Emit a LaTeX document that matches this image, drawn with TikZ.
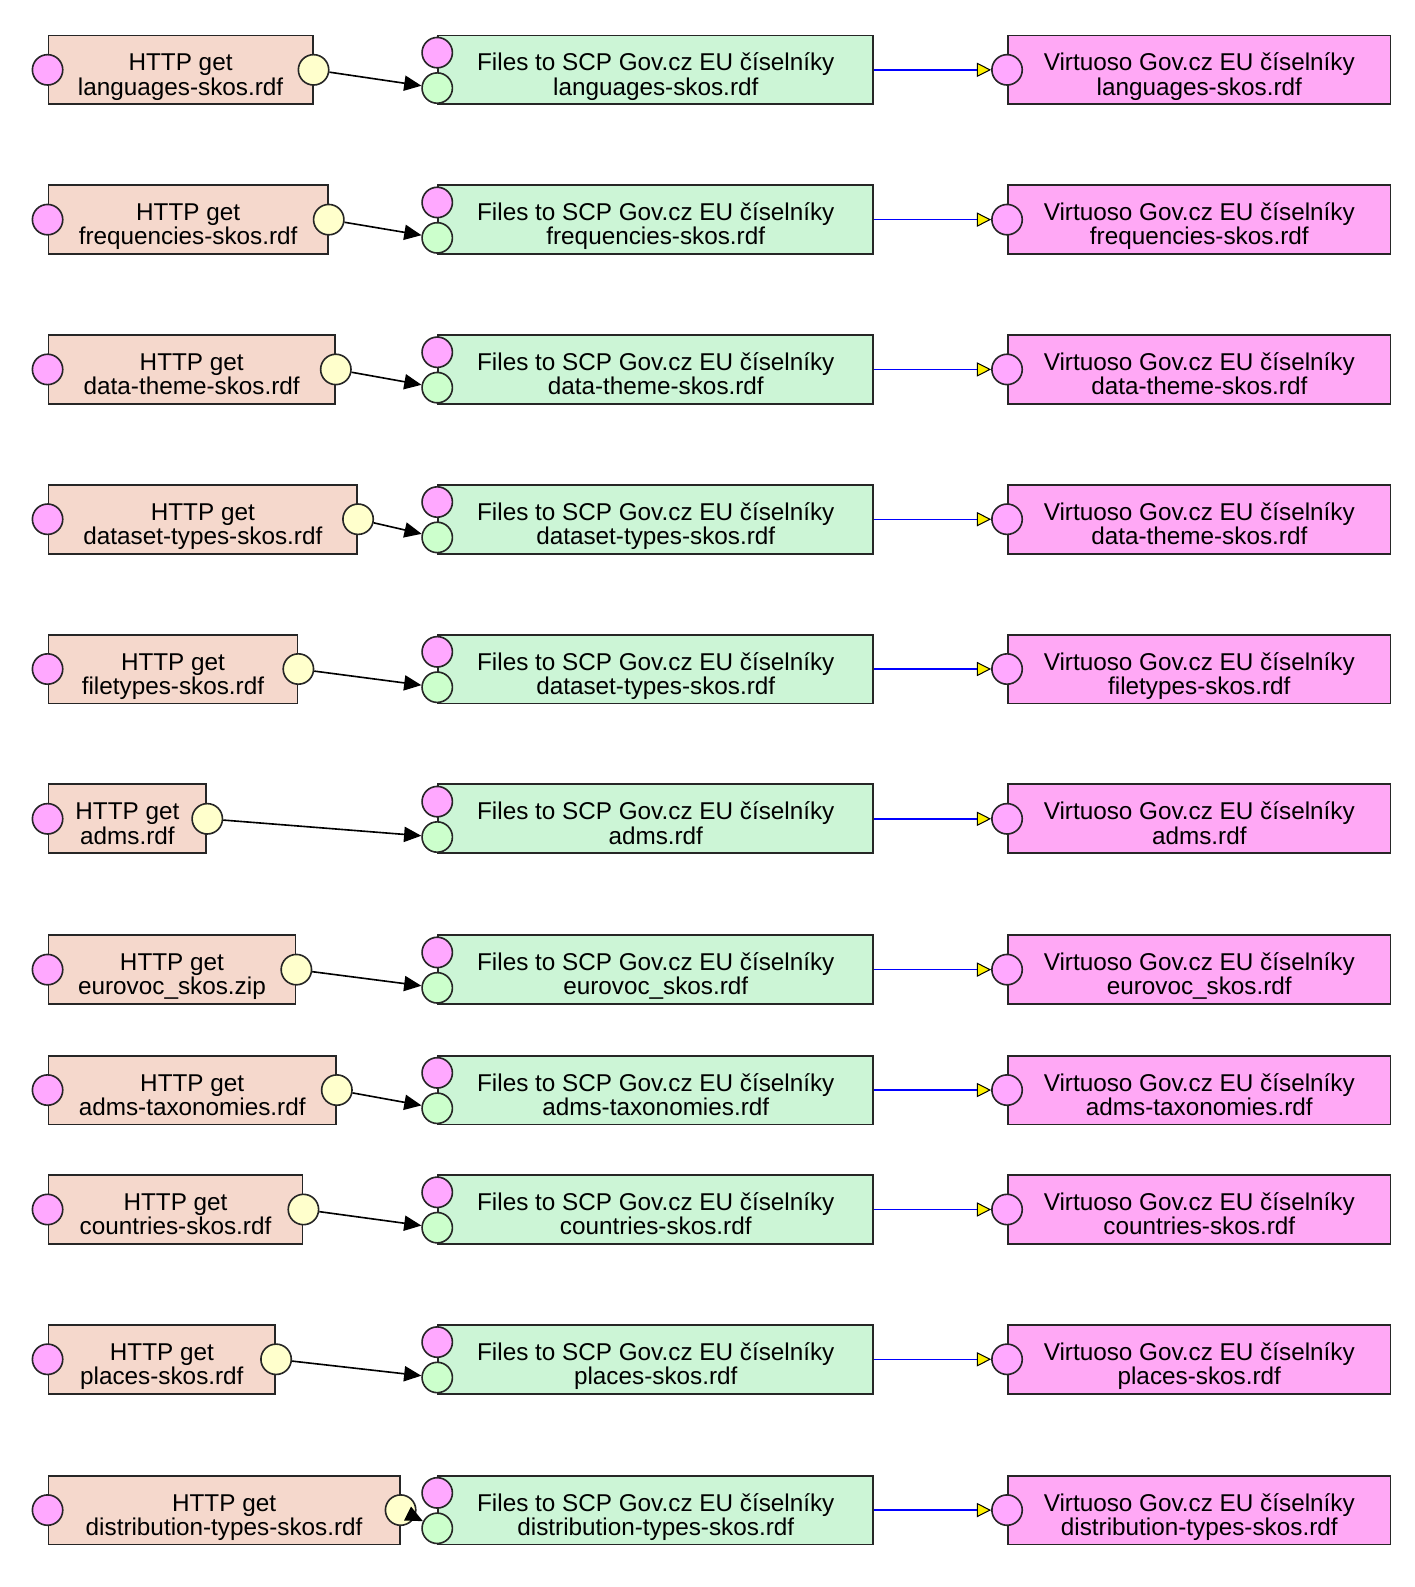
\documentclass[tikz,border=0pt]{standalone}
\usepackage{fontspec}
\setmainfont{Liberation Sans}
\usetikzlibrary{arrows.meta}
\definecolor{getfill}{HTML}{F5D8CC}
\definecolor{filefill}{HTML}{CCF5D6}
\definecolor{virtfill}{HTML}{FFA8F5}
\definecolor{pinkport}{HTML}{FFA8FF}
\definecolor{yellowport}{HTML}{FFFFCC}
\definecolor{greenport}{HTML}{CCFFCC}

\begin{document}
\begin{tikzpicture}
  [x=0.5pt,y=-0.5pt,
   box/.style={draw=black!85,line width=0.9pt,anchor=west,minimum height=34pt,inner sep=0pt,
     align=center,font=\fontsize{12}{12}\selectfont,text height=25pt,text depth=0pt},
   getbox/.style={box,fill=getfill},
   filebox/.style={box,fill=filefill,minimum width=215pt},
   virtbox/.style={box,fill=virtfill,minimum width=189pt},
   port/.style={circle,draw=black!85,line width=0.8pt,minimum size=15pt,inner sep=0pt},
   inport/.style={port,fill=pinkport},
   outport/.style={port,fill=yellowport},
   okport/.style={port,fill=greenport},
   dataflow/.style={line width=0.8pt,-{Triangle[length=8.5pt,width=7.5pt]}},
   runflow/.style={blue,line width=0.7pt,-{Triangle[length=7pt,width=7pt,fill=yellow,color=black,line width=0.5pt]}}]
  \useasboundingbox (0,0) rectangle (1398,1568);

  \node[getbox,minimum width=130.5pt] (g1) at (47,69) {HTTP get\\languages-skos.rdf};
  \node[inport] (g1in) at (g1.west) {};
  \node[outport] (g1out) at (g1.east) {};
  \node[filebox] (f1) at (432,69) {Files to SCP Gov.cz EU číselníky\\languages-skos.rdf};
  \node[inport] (f1cfg) at ([yshift=8.5pt]f1.west) {};
  \node[okport] (f1in) at ([yshift=-9pt]f1.west) {};
  \node[virtbox] (v1) at (995,69) {Virtuoso Gov.cz EU číselníky\\languages-skos.rdf};
  \node[inport] (v1in) at (v1.west) {};

  \node[getbox,minimum width=138pt] (g2) at (47,217) {HTTP get\\frequencies-skos.rdf};
  \node[inport] (g2in) at (g2.west) {};
  \node[outport] (g2out) at (g2.east) {};
  \node[filebox] (f2) at (432,217) {Files to SCP Gov.cz EU číselníky\\frequencies-skos.rdf};
  \node[inport] (f2cfg) at ([yshift=8.5pt]f2.west) {};
  \node[okport] (f2in) at ([yshift=-9pt]f2.west) {};
  \node[virtbox] (v2) at (995,217) {Virtuoso Gov.cz EU číselníky\\frequencies-skos.rdf};
  \node[inport] (v2in) at (v2.west) {};

  \node[getbox,minimum width=141.5pt] (g3) at (47,365) {HTTP get\\data-theme-skos.rdf};
  \node[inport] (g3in) at (g3.west) {};
  \node[outport] (g3out) at (g3.east) {};
  \node[filebox] (f3) at (432,365) {Files to SCP Gov.cz EU číselníky\\data-theme-skos.rdf};
  \node[inport] (f3cfg) at ([yshift=8.5pt]f3.west) {};
  \node[okport] (f3in) at ([yshift=-9pt]f3.west) {};
  \node[virtbox] (v3) at (995,365) {Virtuoso Gov.cz EU číselníky\\data-theme-skos.rdf};
  \node[inport] (v3in) at (v3.west) {};

  \node[getbox,minimum width=152.5pt] (g4) at (47,513) {HTTP get\\dataset-types-skos.rdf};
  \node[inport] (g4in) at (g4.west) {};
  \node[outport] (g4out) at (g4.east) {};
  \node[filebox] (f4) at (432,513) {Files to SCP Gov.cz EU číselníky\\dataset-types-skos.rdf};
  \node[inport] (f4cfg) at ([yshift=8.5pt]f4.west) {};
  \node[okport] (f4in) at ([yshift=-9pt]f4.west) {};
  \node[virtbox] (v4) at (995,513) {Virtuoso Gov.cz EU číselníky\\data-theme-skos.rdf};
  \node[inport] (v4in) at (v4.west) {};

  \node[getbox,minimum width=123pt] (g5) at (47,661) {HTTP get\\filetypes-skos.rdf};
  \node[inport] (g5in) at (g5.west) {};
  \node[outport] (g5out) at (g5.east) {};
  \node[filebox] (f5) at (432,661) {Files to SCP Gov.cz EU číselníky\\dataset-types-skos.rdf};
  \node[inport] (f5cfg) at ([yshift=8.5pt]f5.west) {};
  \node[okport] (f5in) at ([yshift=-9pt]f5.west) {};
  \node[virtbox] (v5) at (995,661) {Virtuoso Gov.cz EU číselníky\\filetypes-skos.rdf};
  \node[inport] (v5in) at (v5.west) {};

  \node[getbox,minimum width=78pt] (g6) at (47,809) {HTTP get\\adms.rdf};
  \node[inport] (g6in) at (g6.west) {};
  \node[outport] (g6out) at (g6.east) {};
  \node[filebox] (f6) at (432,809) {Files to SCP Gov.cz EU číselníky\\adms.rdf};
  \node[inport] (f6cfg) at ([yshift=8.5pt]f6.west) {};
  \node[okport] (f6in) at ([yshift=-9pt]f6.west) {};
  \node[virtbox] (v6) at (995,809) {Virtuoso Gov.cz EU číselníky\\adms.rdf};
  \node[inport] (v6in) at (v6.west) {};

  \node[getbox,minimum width=122pt] (g7) at (47,958) {HTTP get\\eurovoc\_skos.zip};
  \node[inport] (g7in) at (g7.west) {};
  \node[outport] (g7out) at (g7.east) {};
  \node[filebox] (f7) at (432,958) {Files to SCP Gov.cz EU číselníky\\eurovoc\_skos.rdf};
  \node[inport] (f7cfg) at ([yshift=8.5pt]f7.west) {};
  \node[okport] (f7in) at ([yshift=-9pt]f7.west) {};
  \node[virtbox] (v7) at (995,958) {Virtuoso Gov.cz EU číselníky\\eurovoc\_skos.rdf};
  \node[inport] (v7in) at (v7.west) {};

  \node[getbox,minimum width=142pt] (g8) at (47,1077) {HTTP get\\adms-taxonomies.rdf};
  \node[inport] (g8in) at (g8.west) {};
  \node[outport] (g8out) at (g8.east) {};
  \node[filebox] (f8) at (432,1077) {Files to SCP Gov.cz EU číselníky\\adms-taxonomies.rdf};
  \node[inport] (f8cfg) at ([yshift=8.5pt]f8.west) {};
  \node[okport] (f8in) at ([yshift=-9pt]f8.west) {};
  \node[virtbox] (v8) at (995,1077) {Virtuoso Gov.cz EU číselníky\\adms-taxonomies.rdf};
  \node[inport] (v8in) at (v8.west) {};

  \node[getbox,minimum width=125.5pt] (g9) at (47,1195) {HTTP get\\countries-skos.rdf};
  \node[inport] (g9in) at (g9.west) {};
  \node[outport] (g9out) at (g9.east) {};
  \node[filebox] (f9) at (432,1195) {Files to SCP Gov.cz EU číselníky\\countries-skos.rdf};
  \node[inport] (f9cfg) at ([yshift=8.5pt]f9.west) {};
  \node[okport] (f9in) at ([yshift=-9pt]f9.west) {};
  \node[virtbox] (v9) at (995,1195) {Virtuoso Gov.cz EU číselníky\\countries-skos.rdf};
  \node[inport] (v9in) at (v9.west) {};

  \node[getbox,minimum width=112pt] (g10) at (47,1343) {HTTP get\\places-skos.rdf};
  \node[inport] (g10in) at (g10.west) {};
  \node[outport] (g10out) at (g10.east) {};
  \node[filebox] (f10) at (432,1343) {Files to SCP Gov.cz EU číselníky\\places-skos.rdf};
  \node[inport] (f10cfg) at ([yshift=8.5pt]f10.west) {};
  \node[okport] (f10in) at ([yshift=-9pt]f10.west) {};
  \node[virtbox] (v10) at (995,1343) {Virtuoso Gov.cz EU číselníky\\places-skos.rdf};
  \node[inport] (v10in) at (v10.west) {};

  \node[getbox,minimum width=173.5pt] (g11) at (47,1492) {HTTP get\\distribution-types-skos.rdf};
  \node[inport] (g11in) at (g11.west) {};
  \node[outport] (g11out) at (g11.east) {};
  \node[filebox] (f11) at (432,1492) {Files to SCP Gov.cz EU číselníky\\distribution-types-skos.rdf};
  \node[inport] (f11cfg) at ([yshift=8.5pt]f11.west) {};
  \node[okport] (f11in) at ([yshift=-9pt]f11.west) {};
  \node[virtbox] (v11) at (995,1492) {Virtuoso Gov.cz EU číselníky\\distribution-types-skos.rdf};
  \node[inport] (v11in) at (v11.west) {};

  \draw[dataflow] (g1out) -- (f1in);
  \draw[dataflow] (g2out) -- (f2in);
  \draw[dataflow] (g3out) -- (f3in);
  \draw[dataflow] (g4out) -- (f4in);
  \draw[dataflow] (g5out) -- (f5in);
  \draw[dataflow] (g6out) -- (f6in);
  \draw[dataflow] (g7out) -- (f7in);
  \draw[dataflow] (g8out) -- (f8in);
  \draw[dataflow] (g9out) -- (f9in);
  \draw[dataflow] (g10out) -- (f10in);
  \draw[dataflow] (g11out) -- (f11in);

  \draw[runflow] (f1.east) -- (v1in);
  \draw[runflow] (f2.east) -- (v2in);
  \draw[runflow] (f3.east) -- (v3in);
  \draw[runflow] (f4.east) -- (v4in);
  \draw[runflow] (f5.east) -- (v5in);
  \draw[runflow] (f6.east) -- (v6in);
  \draw[runflow] (f7.east) -- (v7in);
  \draw[runflow] (f8.east) -- (v8in);
  \draw[runflow] (f9.east) -- (v9in);
  \draw[runflow] (f10.east) -- (v10in);
  \draw[runflow] (f11.east) -- (v11in);
\end{tikzpicture}
\end{document}
